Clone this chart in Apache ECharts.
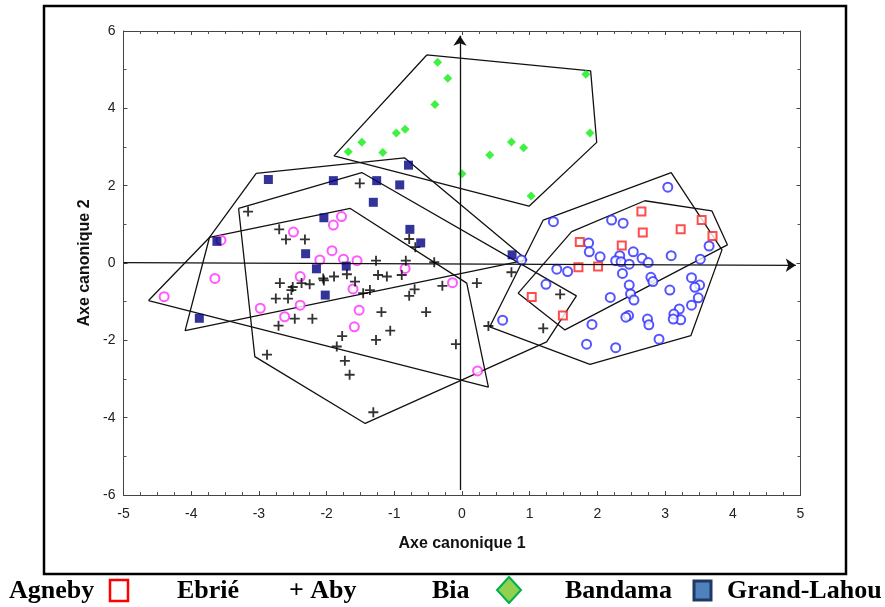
<!DOCTYPE html>
<html>
<head>
<meta charset="utf-8">
<script src="https://cdn.jsdelivr.net/npm/echarts@6/dist/echarts.min.js"></script>
<style>
html, body { margin: 0; padding: 0; background: #fff; }
#main { width: 885px; height: 607px; }
</style>
</head>
<body>
<div id="main"></div>
<script>
// points (axe canonique 1, axe canonique 2)
var agneby = [[2.65,1.33],[2.67,0.79],[3.23,0.87],[3.54,1.11],[3.70,0.70],[1.74,0.54],[2.36,0.45],
    [1.72,-0.11],[2.01,-0.09],[1.03,-0.88],[1.49,-1.36]];
var ebrie = [[3.04,1.96],[1.35,1.07],[2.21,1.11],[2.38,1.03],[1.87,0.52],[1.88,0.29],[2.04,0.16],[2.53,0.29],
    [2.33,0.19],[2.27,0.06],[2.35,0.03],[2.47,-0.03],[2.66,0.12],[2.75,0.01],[3.09,0.19],[3.65,0.44],[3.52,0.10],
    [1.40,-0.16],[1.56,-0.22],[0.88,0.08],[2.37,-0.27],[2.79,-0.37],[2.82,-0.48],[2.47,-0.57],[3.39,-0.38],
    [3.51,-0.57],[3.44,-0.63],[1.24,-0.55],[2.49,-0.80],[2.19,-0.89],[2.54,-0.96],[3.07,-0.70],[3.49,-0.90],
    [3.39,-1.09],[3.21,-1.19],[3.13,-1.32],[3.23,-1.47],[3.12,-1.45],[2.46,-1.36],[2.42,-1.40],[2.74,-1.45],
    [2.76,-1.60],[1.92,-1.59],[0.60,-1.48],[1.84,-2.10],[2.27,-2.19],[2.91,-1.97]];
var aby = [[-3.16,1.33],[-2.70,0.87],[-2.60,0.61],[-2.32,0.61],[-2.69,-0.52],[-2.52,-0.70],[-2.50,-0.62],
    [-2.37,-0.52],[-2.25,-0.55],[-2.05,-0.40],[-2.04,-0.45],[-1.89,-0.35],[-2.75,-0.92],[-2.57,-0.92],
    [-2.47,-1.44],[-2.21,-1.44],[-2.71,-1.62],[-2.88,-2.37],[-1.85,-2.16],[-1.70,-0.29],[-1.58,-0.48],
    [-1.77,-1.89],[-1.73,-2.53],[-1.66,-2.89],[-1.46,-0.78],[-1.36,-0.70],[-1.27,0.06],[-1.24,-0.31],
    [-1.11,-0.35],[-0.89,-0.31],[-0.83,0.06],[-1.19,-1.27],[-1.06,-1.75],[-1.27,-1.99],[-0.78,-0.85],
    [-0.70,-0.68],[-0.53,-1.27],[-0.29,-0.59],[-0.09,-2.10],[0.22,-0.52],[-0.41,0.02],[0.39,-1.63],
    [-1.31,-3.86],[-1.51,2.06],[-0.78,0.62],[-0.69,0.41],[0.73,-0.24],[1.45,-0.81],[1.20,-1.69]];
var bia = [[-0.36,5.19],[-0.21,4.78],[-0.40,4.10],[-0.84,3.46],[-0.97,3.36],[-1.48,3.12],[-1.68,2.88],
    [-1.17,2.86],[0.00,2.31],[0.41,2.79],[0.73,3.13],[0.91,2.98],[1.02,1.73],[1.83,4.88],[1.89,3.36]];
var bandama = [[-2.49,0.80],[-1.90,0.98],[-1.78,1.20],[-3.56,0.59],[-1.92,0.32],[-2.10,0.08],[-1.75,0.10],
    [-1.55,0.06],[-3.65,-0.40],[-4.40,-0.87],[-2.39,-0.35],[-2.39,-1.09],[-2.98,-1.17],[-2.62,-1.39],
    [-0.84,-0.14],[-1.61,-0.67],[-1.52,-1.22],[-1.59,-1.65],[-0.14,-0.51],[0.23,-2.79]];
var grandLahou = [[-2.86,2.16],[-1.90,2.13],[-2.04,1.17],[-3.62,0.56],[-2.31,0.24],[-2.15,-0.15],[-2.02,-0.83],
    [-3.88,-1.43],[-0.79,2.53],[-1.26,2.13],[-0.92,2.02],[-1.31,1.57],[-0.77,0.87],[-0.61,0.52],[-1.71,-0.08],
    [0.74,0.21]];

// hand drawn envelopes
var hullAgneby = [[1.62,0.81],[2.70,1.61],[3.69,1.35],[3.92,0.47],[1.52,-1.73],[0.83,-0.78]];
var hullEbrie = [[1.20,1.11],[3.09,2.34],[3.84,0.34],[3.38,-1.88],[1.89,-2.62],[0.41,-1.65]];
var hullAby = [[-3.30,1.41],[-1.48,2.34],[1.69,-0.85],[1.25,-2.04],[-1.43,-4.15],[-3.06,-2.42]];
var hullBia = [[-0.52,5.38],[1.90,4.97],[1.99,3.12],[0.99,1.47],[-1.89,2.77]];
var hullBandama = [[-4.63,-0.97],[-3.73,0.66],[-1.65,1.41],[0.07,-0.52],[0.39,-3.21]];
var hullGrandLahou = [[-3.04,2.32],[-0.85,2.72],[0.96,0.08],[-4.09,-1.75],[-3.73,0.66]];

var legendItems = ['Agneby', 'Ebrié', '+ Aby', 'Bia', 'Bandama', 'Grand-Lahou'];
var legendX = [9, 177, 289, 432, 565, 727];

var plusPath = 'path://M4.9,0H7.1V4.9H12V7.1H7.1V12H4.9V7.1H0V4.9H4.9Z';

function envelope(pts) {
    return {
        type: 'line', data: pts.concat([pts[0]]), symbol: 'none', silent: true,
        lineStyle: { color: '#111', width: 1.3 }, z: 1
    };
}

var series = [
    envelope(hullAgneby), envelope(hullEbrie), envelope(hullAby),
    envelope(hullBia), envelope(hullBandama), envelope(hullGrandLahou),
    {
        type: 'line', data: [], silent: true,
        markLine: {
            silent: true, symbol: ['none', 'arrow'], symbolSize: 10,
            label: { show: false },
            lineStyle: { color: '#111', type: 'solid', width: 1.3 },
            data: [
                [{ coord: [-5, 0.01] }, { coord: [4.93, -0.06] }],
                [{ coord: [-0.03, -5.87] }, { coord: [-0.03, 5.88] }]
            ]
        }
    },
    { type: 'scatter', name: 'Ebrié', data: ebrie, symbol: 'emptyCircle', symbolSize: 9,
      itemStyle: { color: '#2b2bff', borderWidth: 1.2 }, z: 3 },
    { type: 'scatter', name: 'Agneby', data: agneby, symbol: 'emptyRect', symbolSize: 8,
      itemStyle: { color: '#ff2020', borderWidth: 1.2 }, z: 3 },
    { type: 'scatter', name: 'Bandama', data: bandama, symbol: 'emptyCircle', symbolSize: 9,
      itemStyle: { color: '#ff30ff', borderWidth: 1.2 }, z: 3 },
    { type: 'scatter', name: 'Aby', data: aby, symbol: plusPath, symbolSize: 10,
      itemStyle: { color: '#000' }, z: 3 },
    { type: 'scatter', name: 'Bia', data: bia, symbol: 'diamond', symbolSize: 9,
      itemStyle: { color: '#11ee11' }, z: 3 },
    { type: 'scatter', name: 'Grand-Lahou', data: grandLahou, symbol: 'rect', symbolSize: 9,
      itemStyle: { color: '#000080' }, z: 4 }
];

var legendGraphics = [
    { type: 'rect', shape: { x: 44, y: 6, width: 802, height: 568 },
      style: { fill: 'none', stroke: '#000', lineWidth: 2.5 }, silent: true },
    { type: 'rect', shape: { x: 110, y: 580, width: 18, height: 21 },
      style: { fill: '#fff', stroke: '#ff0000', lineWidth: 2.5 } },
    { type: 'polygon', shape: { points: [[509, 577], [521, 590], [509, 603], [497, 590]] },
      style: { fill: '#92d050', stroke: '#00b050', lineWidth: 2 } },
    { type: 'rect', shape: { x: 694, y: 581, width: 17, height: 19 },
      style: { fill: '#4f81bd', stroke: '#1f3864', lineWidth: 3 } }
];
legendItems.forEach(function (t, i) {
    legendGraphics.push({
        type: 'text', left: legendX[i], top: 578,
        style: { text: t, font: 'bold 26px "Liberation Serif", "Times New Roman", serif', fill: '#000' }
    });
});

var axisFont = '"Liberation Sans", Arial, sans-serif';

var option = {
    animation: false,
    backgroundColor: '#fff',
    grid: { left: 123.5, right: 84.5, top: 31, bottom: 112 },
    xAxis: [{
        type: 'value', min: -5, max: 5, interval: 1,
        name: 'Axe canonique 1', nameLocation: 'middle', nameGap: 41,
        nameTextStyle: { fontFamily: axisFont, fontWeight: 'bold', fontSize: 16, color: '#111' },
        axisLine: { onZero: false, lineStyle: { color: '#444', width: 1 } },
        axisTick: { inside: true, length: 4, lineStyle: { color: '#444' } },
        minorTick: { show: true, splitNumber: 4, length: 3, lineStyle: { color: '#555' } },
        axisLabel: { fontFamily: axisFont, fontSize: 14, color: '#222', margin: 12 },
        splitLine: { show: false }
    }, {
        type: 'value', min: -5, max: 5, interval: 1, position: 'top',
        axisLine: { onZero: false, lineStyle: { color: '#444', width: 1 } },
        axisTick: { inside: true, length: 4, lineStyle: { color: '#444' } },
        minorTick: { show: true, splitNumber: 4, length: 3, lineStyle: { color: '#555' } },
        axisLabel: { show: false }, splitLine: { show: false }
    }],
    yAxis: [{
        type: 'value', min: -6, max: 6, interval: 2,
        name: 'Axe canonique 2', nameLocation: 'middle', nameGap: 30,
        nameTextStyle: { fontFamily: axisFont, fontWeight: 'bold', fontSize: 16, color: '#111' },
        axisLine: { onZero: false, lineStyle: { color: '#444', width: 1 } },
        axisTick: { inside: true, length: 4, lineStyle: { color: '#444' } },
        minorTick: { show: true, splitNumber: 2, length: 3, lineStyle: { color: '#555' } },
        axisLabel: { fontFamily: axisFont, fontSize: 14, color: '#222', margin: 8 },
        splitLine: { show: false }
    }, {
        type: 'value', min: -6, max: 6, interval: 2, position: 'right',
        axisLine: { onZero: false, lineStyle: { color: '#444', width: 1 } },
        axisTick: { inside: true, length: 4, lineStyle: { color: '#444' } },
        minorTick: { show: true, splitNumber: 2, length: 3, lineStyle: { color: '#555' } },
        axisLabel: { show: false }, splitLine: { show: false }
    }],
    graphic: legendGraphics,
    series: series
};

var chart = echarts.init(document.getElementById('main'));
chart.setOption(option);
</script>
</body>
</html>
